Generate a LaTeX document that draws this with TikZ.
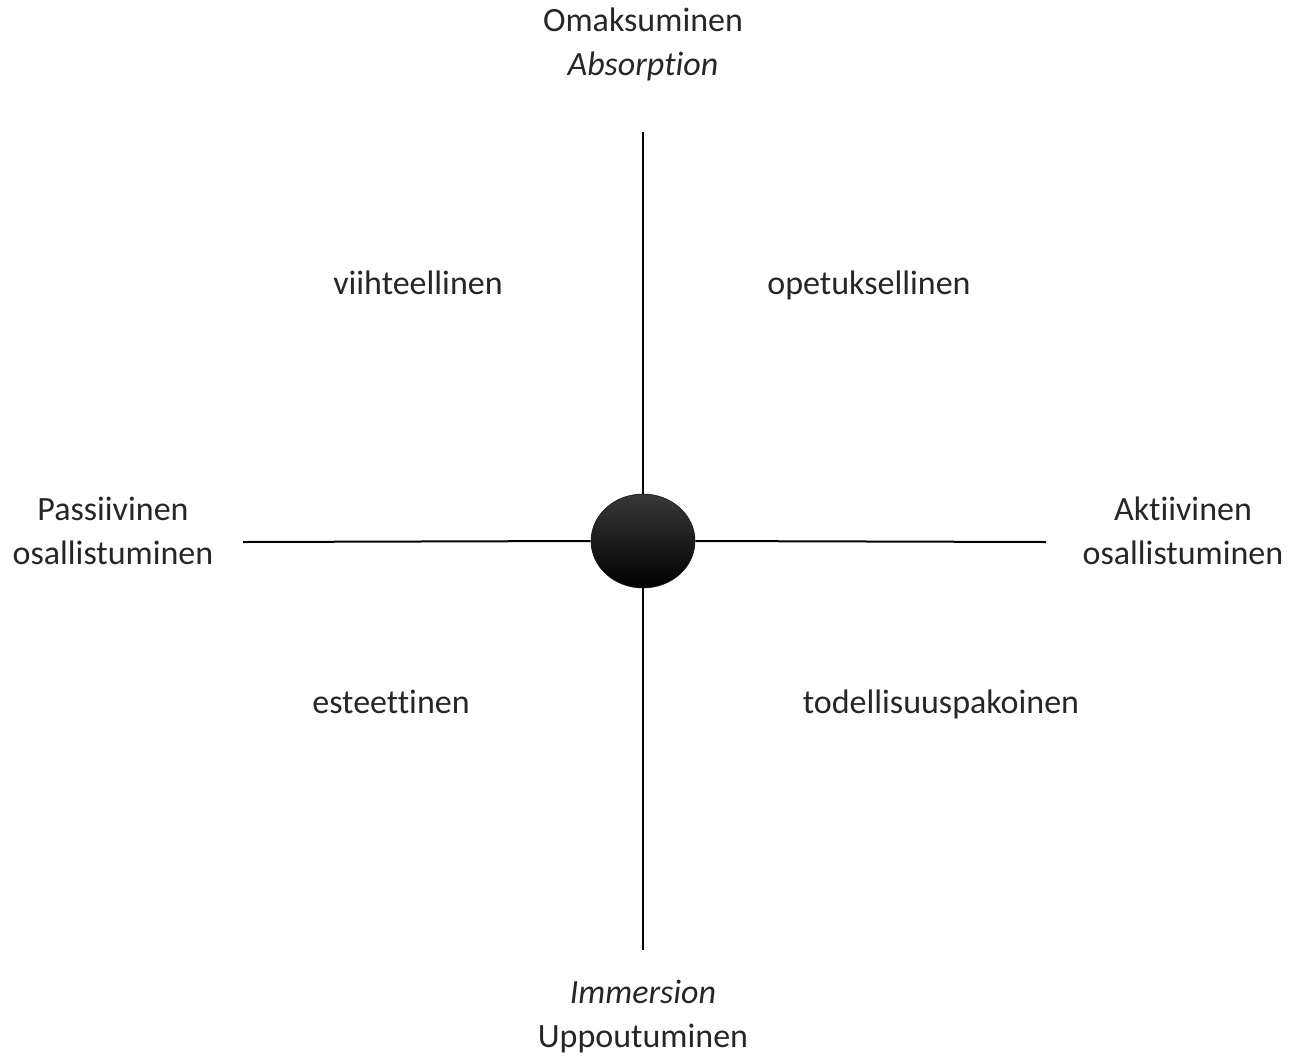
\documentclass[tikz,border=0pt]{standalone}
\usepackage{fontspec}
\setmainfont[Ligatures=NoCommon]{Carlito}
\usetikzlibrary{shapes.geometric}
\begin{document}
\begin{tikzpicture}[x=1pt,y=-1pt,
  lbl/.style={font=\fontsize{34}{44}\selectfont, align=center, inner sep=0pt, text=black!85},
  qlbl/.style={font=\fontsize{34}{44}\selectfont, inner sep=0pt, text=black!85, anchor=base},
  axis/.style={line width=2pt, black}]
\useasboundingbox (0,0) rectangle (1300,1061);
\coordinate (top) at (643,132);
\coordinate (bot) at (643,950);
\coordinate (lft) at (243,542);
\coordinate (rgt) at (1046,542);
\node[ellipse, minimum width=104pt, minimum height=94pt, inner sep=0pt, top color=black!78, bottom color=black, draw=black!90, line width=0.6pt] (c) at (643,541) {};
\draw[axis] (c.north) -- (top);
\draw[axis] (c.south) -- (bot);
\draw[axis] (c.west) -- (lft);
\draw[axis] (c.east) -- (rgt);
\node[lbl] (abs) at (643,44) {Omaksuminen\\\textit{Absorption}};
\node[lbl] (imm) at (643,1017) {\textit{Immersion}\\Uppoutuminen};
\node[lbl] (pas) at (113,531) {Passiivinen\\osallistuminen};
\node[lbl] (akt) at (1183,531) {Aktiivinen\\osallistuminen};
\node[qlbl] (vii) at (418,294) {viihteellinen};
\node[qlbl] (ope) at (869,294) {opetuksellinen};
\node[qlbl] (est) at (391,713) {esteettinen};
\node[qlbl] (tod) at (941,713) {todellisuuspakoinen};
\end{tikzpicture}
\end{document}
